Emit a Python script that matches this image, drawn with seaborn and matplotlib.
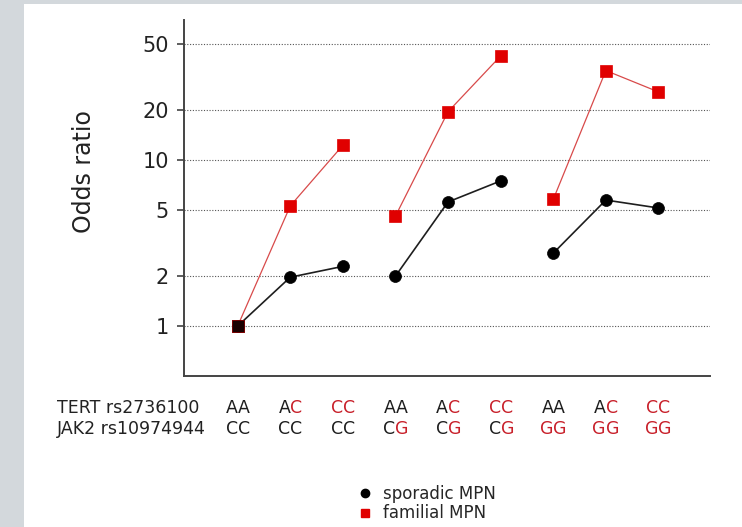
import pandas as pd
import seaborn as sns
import matplotlib.pyplot as plt
import matplotlib.ticker as mticker
from matplotlib.lines import Line2D
from matplotlib.patches import Rectangle

# datos (odds ratio por combinacion de genotipos)
tert_labels = ["AA", "AC", "CC", "AA", "AC", "CC", "AA", "AC", "CC"]
jak2_labels = ["CC", "CC", "CC", "CG", "CG", "CG", "GG", "GG", "GG"]
grupos = [0, 0, 0, 1, 1, 1, 2, 2, 2]
sporadic_or = [1.0, 1.97, 2.29, 2.0, 5.6, 7.5, 2.75, 5.75, 5.15]
familial_or = [1.0, 5.3, 12.3, 4.6, 19.6, 42.5, 5.8, 34.7, 25.8]
y_ticks = [1, 2, 5, 10, 20, 50]
# alelo de riesgo de cada fila (se pinta en rojo)
filas = [("TERT rs2736100", tert_labels, "C"), ("JAK2 rs10974944", jak2_labels, "G")]

ROJO = "#e00000"
ROJO_TXT = "#c8202a"
NEGRO = "#1e1e1e"

# tabla larga para seaborn
n = len(tert_labels)
df = pd.DataFrame({
    "pos": list(range(n)) * 2,
    "odds": sporadic_or + familial_or,
    "serie": ["sporadic MPN"] * n + ["familial MPN"] * n,
    "grupo": grupos * 2,
})

sns.set_style("ticks")
plt.rcParams["font.family"] = ["DejaVu Sans"]

fig = plt.figure(figsize=(7.42, 5.27), dpi=100, facecolor="#d3d8dc")
fig.add_artist(Rectangle((24 / 742, 0), 1 - 24 / 742, 1 - 4 / 527,
                         transform=fig.transFigure, facecolor="white",
                         edgecolor="none", zorder=-1))
ax = fig.add_axes([184 / 742, 1 - 376 / 527, (710 - 184) / 742, (376 - 20) / 527])

# familial primero (linea roja fina), luego sporadic encima
sns.lineplot(data=df[df["serie"] == "familial MPN"], x="pos", y="odds",
             units="grupo", estimator=None, color="#d84a4a", lw=0.9,
             marker="s", markersize=8.3, mfc=ROJO, mec=ROJO, mew=0.5,
             legend=False, ax=ax, zorder=3)
sns.lineplot(data=df[df["serie"] == "sporadic MPN"], x="pos", y="odds",
             units="grupo", estimator=None, color=NEGRO, lw=1.2,
             marker="o", markersize=8.6, mfc="black", mec="black", mew=0.5,
             legend=False, ax=ax, zorder=4)
# punto de referencia (ambas series = 1)
ax.plot([0], [sporadic_or[0]], marker="s", ms=8.3, mfc="#1a0000",
        mec="#7a0000", mew=0.6, ls="none", zorder=5)

ax.set_yscale("log")
ax.set_ylim(0.5, 70)
ax.set_xlim(-1.02, 8.98)
ax.set_yticks(y_ticks)
ax.set_yticklabels([str(t) for t in y_ticks])
ax.yaxis.set_minor_locator(mticker.NullLocator())
ax.set_xticks([])
ax.set_xlabel("")
ax.set_ylabel("Odds ratio", fontsize=17, color="#222222")
ax.yaxis.set_label_coords(-0.167, 0.573)
ax.tick_params(axis="y", labelsize=15, length=5, width=1.1, pad=6,
               colors="#333333", labelcolor="#222222")
ax.grid(axis="y", linestyle=(0, (1, 1.5)), color="#555555", lw=0.8)
ax.grid(axis="x", visible=False)
sns.despine(ax=ax)
for s in ["left", "bottom"]:
    ax.spines[s].set_color("#444444")
    ax.spines[s].set_linewidth(1.4)

# etiquetas de genotipo: el alelo de riesgo en rojo
trans = ax.get_xaxis_transform()
row_y = [(376 - 408) / 356, (376 - 429) / 356]
for f, (titulo, etiquetas, riesgo) in enumerate(filas):
    fig.text(57 / 742, 1 - (408 + 21 * f) / 527, titulo, ha="left", va="center",
             fontsize=12.5, color="#222222")
    for i, lab in enumerate(etiquetas):
        c1 = ROJO_TXT if lab[0] == riesgo else NEGRO
        c2 = ROJO_TXT if lab[1] == riesgo else NEGRO
        ax.text(i, row_y[f], lab[0], transform=trans, ha="right", va="center",
                fontsize=12.5, color=c1, clip_on=False)
        ax.text(i, row_y[f], lab[1], transform=trans, ha="left", va="center",
                fontsize=12.5, color=c2, clip_on=False)

handles = [Line2D([], [], marker="o", color="black", ls="none", ms=6),
           Line2D([], [], marker="s", color=ROJO, ls="none", ms=6)]
fig.legend(handles, ["sporadic MPN", "familial MPN"], loc="center left",
           bbox_to_anchor=(344.5 / 742, 1 - 503.5 / 527), frameon=False,
           fontsize=12, handlelength=0.7, handletextpad=0.72, labelspacing=0.1,
           borderpad=0.4)

fig.savefig("out.png", dpi=100, facecolor=fig.get_facecolor())
